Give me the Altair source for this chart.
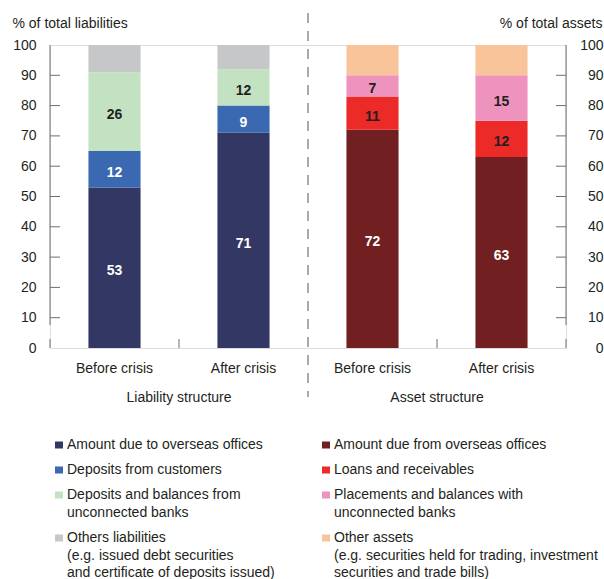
import altair as alt
import pandas as pd

FONT = "Liberation Sans"
INK = "#231f20"
AXIS_GREY = "#6d6e71"

# ---- chart content -------------------------------------------------------
periods = ["Before crisis", "After crisis"]
sections = ["Liability structure", "Asset structure"]

liability_items = [
    "Amount due to overseas offices",
    "Deposits from customers",
    "Deposits and balances from\nunconnected banks",
    "Others liabilities\n(e.g. issued debt securities\nand certificate of deposits issued)",
]
asset_items = [
    "Amount due from overseas offices",
    "Loans and receivables",
    "Placements and balances with\nunconnected banks",
    "Other assets\n(e.g. securities held for trading, investment\nsecurities and trade bills)",
]

# % of total liabilities / assets, bottom segment first
liability_before = [53, 12, 26, 9]
liability_after = [71, 9, 12, 8]
asset_before = [72, 11, 7, 10]
asset_after = [63, 12, 15, 10]
labelled = [True, True, True, False]

y_ticks = [10, 20, 30, 40, 50, 60, 70, 80, 90]

# ---- styling --------------------------------------------------------------
liability_colors = ["#333764", "#3b69b1", "#c2e2c1", "#c6c7c8"]
asset_colors = ["#721f21", "#ec2a28", "#ee93be", "#f9c499"]
liability_ink = ["white", "white", INK, INK]
asset_ink = ["white", INK, INK, INK]

BAR_HALF = 0.202  # half bar width, in slot units


def stack(section, period, slot, items, values, inks):
    rows, base = [], 0
    for i, (item, v) in enumerate(zip(items, values)):
        rows.append(dict(
            section=section, period=period, item=item,
            start=base, end=base + v, mid=base + v / 2, value=v,
            center=slot + 0.5, left=slot + 0.5 - BAR_HALF, right=slot + 0.5 + BAR_HALF,
            show=labelled[i], ink=inks[i],
        ))
        base += v
    return rows


liab_df = pd.DataFrame(
    stack(sections[0], periods[0], 0, liability_items, liability_before, liability_ink)
    + stack(sections[0], periods[1], 1, liability_items, liability_after, liability_ink)
)
asset_df = pd.DataFrame(
    stack(sections[1], periods[0], 2, asset_items, asset_before, asset_ink)
    + stack(sections[1], periods[1], 3, asset_items, asset_after, asset_ink)
)
all_df = pd.concat([liab_df, asset_df], ignore_index=True)
labels_df = all_df[all_df["show"]]
columns_df = all_df.drop_duplicates("center")[["center", "period"]]

x_scale = alt.Scale(domain=[0, 4], nice=False, zero=False)
y_scale = alt.Scale(domain=[0, 100], nice=False)

# x axis only supplies the baseline; column names are drawn as text below
x_axis = alt.Axis(
    title=None, labels=False, ticks=False, tickSize=0, grid=False,
    domain=True, domainColor=AXIS_GREY, domainWidth=1,
)

common_y = dict(
    values=list(range(0, 101, 10)), ticks=False, tickSize=0, grid=False,
    domain=False, labelFont=FONT, labelFontSize=14, labelColor=INK,
    titleFont=FONT, titleFontSize=14, titleFontWeight="normal", titleColor=INK,
    titleAngle=0, titleBaseline="alphabetic", titleY=-18,
)
left_axis = alt.Axis(
    orient="left", title="% of total liabilities", labelPadding=14,
    titleAlign="left", titleX=-38, **common_y,
)
right_axis = alt.Axis(
    orient="right", title="% of total assets", labelPadding=37, labelAlign="right",
    titleAlign="right", titleX=36, **common_y,
)

SWATCH = "M-1,-1.875H1V-0.125H-1Z"
legend_common = dict(
    title=None, orient="none", direction="vertical",
    symbolType=SWATCH, symbolSize=64, symbolStrokeWidth=0,
    labelExpr="split(datum.label, '\\n')",
    labelFont=FONT, labelFontSize=14, labelColor=INK, labelLimit=400,
    labelOffset=1, labelBaseline="alphabetic", rowPadding=11,
)

liab_bars = alt.Chart(liab_df).mark_bar().encode(
    x=alt.X("left:Q", scale=x_scale, axis=x_axis),
    x2="right:Q",
    y=alt.Y("start:Q", scale=y_scale, axis=left_axis),
    y2="end:Q",
    color=alt.Color(
        "item:N", sort=liability_items,
        scale=alt.Scale(domain=liability_items, range=liability_colors),
        legend=alt.Legend(legendX=2, legendY=397, **legend_common),
    ),
)

asset_bars = alt.Chart(asset_df).mark_bar().encode(
    x=alt.X("left:Q", scale=x_scale, axis=None),
    x2="right:Q",
    y=alt.Y("start:Q", scale=y_scale, axis=right_axis),
    y2="end:Q",
    color=alt.Color(
        "item:N", sort=asset_items,
        scale=alt.Scale(domain=asset_items, range=asset_colors),
        legend=alt.Legend(legendX=269, legendY=397, **legend_common),
    ),
)

value_labels = alt.Chart(labels_df).mark_text(
    font=FONT, fontSize=14, fontWeight="bold", baseline="alphabetic", dy=7.5,
).encode(
    x=alt.X("center:Q", scale=x_scale, axis=None),
    y=alt.Y("mid:Q", scale=y_scale, axis=None),
    text=alt.Text("value:Q"),
    color=alt.Color("ink:N", scale=None, legend=None),
)

# inward-pointing value ticks on both vertical axes
tick_df = pd.DataFrame({"tick": y_ticks})
left_ticks = alt.Chart(tick_df).mark_rule(color=AXIS_GREY, strokeWidth=1).encode(
    y=alt.Y("tick:Q", scale=y_scale, axis=None), x=alt.value(0), x2=alt.value(10),
)
right_ticks = alt.Chart(tick_df).mark_rule(color=AXIS_GREY, strokeWidth=1).encode(
    y=alt.Y("tick:Q", scale=y_scale, axis=None), x=alt.value(506), x2=alt.value(516),
)

# vertical axis lines and the short upward ticks between the columns
edge_df = pd.DataFrame({"edge": [0, 4]})
axis_lines = alt.Chart(edge_df).mark_rule(color=AXIS_GREY, strokeWidth=1).encode(
    x=alt.X("edge:Q", scale=x_scale, axis=None), y=alt.value(0), y2=alt.value(280),
)
slot_df = pd.DataFrame({"edge": [0, 1, 3, 4]})
slot_ticks = alt.Chart(slot_df).mark_rule(color=AXIS_GREY, strokeWidth=1).encode(
    x=alt.X("edge:Q", scale=x_scale, axis=None), y=alt.value(294), y2=alt.value(303),
)

# dashed divider between the liability and asset halves
divider = alt.Chart(pd.DataFrame({"pos": [2]})).mark_rule(
    color="#555555", strokeWidth=1, strokeDash=[10, 8],
).encode(
    x=alt.X("pos:Q", scale=x_scale, axis=None), y=alt.value(-32), y2=alt.value(352),
)

column_labels = alt.Chart(columns_df).mark_text(
    font=FONT, fontSize=14, color=INK, baseline="alphabetic", align="center",
).encode(
    x=alt.X("center:Q", scale=x_scale, axis=None),
    y=alt.value(328),
    text="period:N",
)

section_labels = alt.Chart(pd.DataFrame({"pos": [1, 3], "section": sections})).mark_text(
    font=FONT, fontSize=14, color=INK, baseline="alphabetic", align="center",
).encode(
    x=alt.X("pos:Q", scale=x_scale, axis=None),
    y=alt.value(357),
    text="section:N",
)

chart = (
    alt.layer(
        liab_bars, asset_bars, value_labels, left_ticks, right_ticks,
        axis_lines, slot_ticks, divider, column_labels, section_labels,
    )
    .resolve_scale(color="independent")
    .resolve_axis(y="independent")
    .properties(
        width=516, height=303,
        padding={"left": 50, "top": 45, "right": 38, "bottom": 231},
        autosize=alt.AutoSizeParams(type="none"),
        background="white",
    )
    .configure_view(stroke=None)
    .configure(font=FONT, style={"guide-label": {"lineHeight": 17.5}})
)

chart.save("out.html", embed_options={"renderer": "svg", "actions": False})
